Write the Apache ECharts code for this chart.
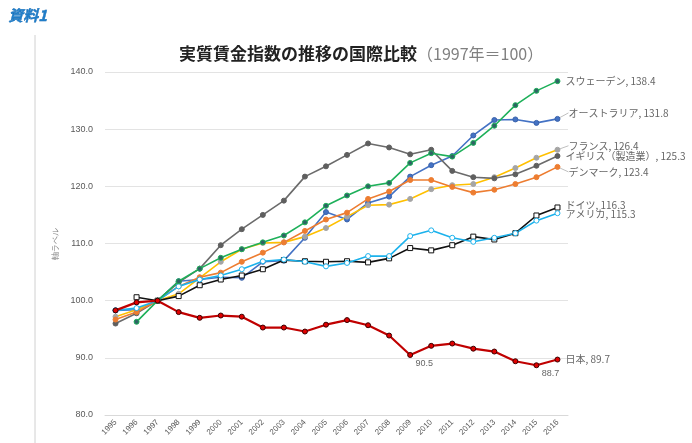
<!DOCTYPE html>
<html><head><meta charset="utf-8">
<script src="https://cdn.jsdelivr.net/npm/echarts@6/dist/echarts.min.js"></script>
<style>html,body{margin:0;padding:0;background:#fff}#c{width:692px;height:443px}</style>
</head><body><div id="c"></div>
<script>
const years = ['1995','1996','1997','1998','1999','2000','2001','2002','2003','2004','2005','2006','2007','2008','2009','2010','2011','2012','2013','2014','2015','2016'];
const yTicks = [80, 90, 100, 110, 120, 130, 140];
const sweden    = [null, 96.3, 100, 103.4, 105.6, 107.5, 109.0, 110.2, 111.4, 113.7, 116.6, 118.4, 120.0, 120.6, 124.1, 125.8, 125.2, 127.6, 130.6, 134.2, 136.7, 138.4];
const australia = [98.3, 98.4, 100, 103.4, 103.7, 104.1, 104.0, 106.8, 107.0, 111.0, 115.5, 114.2, 117.1, 118.2, 121.7, 123.7, 125.3, 128.9, 131.6, 131.7, 131.1, 131.8];
const france    = [97.2, 98.4, 100, 101.2, 104.0, 106.8, 109.0, 110.1, 110.2, 111.2, 112.7, 114.7, 116.7, 116.8, 117.8, 119.5, 120.2, 120.4, 121.6, 123.2, 125.0, 126.4];
const uk        = [96.0, 97.8, 100, 103.2, 105.6, 109.7, 112.5, 115.0, 117.5, 121.7, 123.5, 125.5, 127.5, 126.8, 125.6, 126.4, 122.7, 121.6, 121.4, 122.1, 123.6, 125.3];
const denmark   = [96.7, 98.0, 100, 102.5, 104.1, 104.9, 106.8, 108.4, 110.2, 112.2, 114.2, 115.4, 117.8, 119.1, 121.1, 121.1, 119.9, 118.9, 119.4, 120.4, 121.6, 123.4];
const germany   = [null, 100.6, 100, 100.8, 102.7, 103.7, 104.4, 105.5, 107.1, 106.9, 106.8, 106.9, 106.7, 107.4, 109.2, 108.8, 109.7, 111.2, 110.7, 111.8, 114.9, 116.3];
const usa       = [98.3, 98.7, 100, 102.5, 103.7, 104.4, 105.5, 106.9, 107.2, 106.8, 106.0, 106.6, 107.8, 107.8, 111.3, 112.3, 111.0, 110.3, 111.0, 111.8, 114.0, 115.3];
const japan     = [98.3, 99.7, 100, 98.0, 97.0, 97.4, 97.2, 95.3, 95.3, 94.6, 95.8, 96.6, 95.7, 93.9, 90.5, 92.1, 92.5, 91.6, 91.1, 89.4, 88.7, 89.7];
const names = ['スウェーデン','オーストラリア','フランス','イギリス（製造業）','デンマーク','ドイツ','アメリカ','日本'];

const labelColor = '#666666';
function mk(name, arr, opt) {
  const last = arr.length - 1;
  const data = arr.map((v, i) => {
    if (i === last) {
      return { value: v, label: { show: true, position: 'right', distance: 5, formatter: name + ', ' + v.toFixed(1), color: labelColor, fontSize: 10, fontFamily: 'Noto Sans CJK JP' } };
    }
    if (opt.extra && opt.extra.indexOf(i) >= 0) {
      return { value: v, label: { show: true, position: 'bottom', offset: [14, -4], formatter: v.toFixed(1), color: labelColor, fontSize: 9 } };
    }
    return v;
  });
  const s = {
    name: name, type: 'line', data: data, symbol: opt.symbol || 'circle', symbolSize: opt.size || 5,
    lineStyle: { color: opt.color, width: opt.width || 1.6 },
    itemStyle: { color: opt.fill, borderColor: opt.border, borderWidth: 1 },
    label: { show: false }, z: opt.z || 2, animation: false
  };
  if (opt.dy) {
    s.labelLayout = { dy: opt.dy, dx: opt.dx || 0 };
    if (opt.line) s.labelLine = { show: true, length2: 0, lineStyle: { color: '#BFBFBF', width: 1 } };
  }
  return s;
}

const chart = echarts.init(document.getElementById('c'), null, { renderer: 'canvas' });
chart.setOption({
  animation: false,
  title: {
    text: '{b|実質賃金指数の推移の国際比較}{g|（1997年＝100）}',
    left: 174, top: 40,
    textStyle: { rich: {
      b: { fontSize: 17, fontWeight: 'bold', color: '#222', fontFamily: 'Noto Sans CJK JP' },
      g: { fontSize: 16, fontWeight: 'normal', color: '#808080', fontFamily: 'Noto Sans CJK JP' }
    } }
  },
  graphic: [
    { type: 'text', left: 8, top: 8, style: { text: '資料1', fontSize: 15, fontWeight: 'bold', fontStyle: 'italic', fill: '#1F7DC8', fontFamily: 'Noto Sans CJK JP', stroke: '#0B5EA8', lineWidth: 0.4 } },
    { type: 'line', shape: { x1: 35, y1: 35, x2: 35, y2: 443 }, style: { stroke: '#D0D0D0', lineWidth: 1 } }
  ],
  grid: { left: 105, right: 124, top: 72, bottom: 28, containLabel: false },
  xAxis: {
    type: 'category', data: years, boundaryGap: true,
    axisLine: { show: true, lineStyle: { color: '#D9D9D9' } },
    axisTick: { show: false },
    axisLabel: { rotate: 45, fontSize: 8, color: '#595959', margin: 6, interval: 0 }
  },
  yAxis: {
    type: 'value', min: yTicks[0], max: yTicks[yTicks.length - 1], interval: 10,
    name: '軸ラベル', nameLocation: 'middle', nameGap: 38, nameRotate: 90,
    nameTextStyle: { fontSize: 8, color: '#7F7F7F' },
    axisLine: { show: false }, axisTick: { show: false },
    axisLabel: { fontSize: 9, color: '#595959', formatter: v => v.toFixed(1), margin: 12 },
    splitLine: { lineStyle: { color: '#E3E3E3', width: 1 } }
  },
  series: [
    mk(names[0], sweden,    { color: '#1EB05A', fill: '#2E6464', border: '#1EB05A', z: 3 }),
    mk(names[1], australia, { color: '#4472C4', fill: '#4472C4', border: '#3A62AA', dy: -6, dx: 3, line: true }),
    mk(names[2], france,    { color: '#FFC000', fill: '#A5A5A5', border: '#A5A5A5', dy: -4, dx: 3, line: true }),
    mk(names[3], uk,        { color: '#6B6B6B', fill: '#5F5F5F', border: '#5F5F5F' }),
    mk(names[4], denmark,   { color: '#ED7D31', fill: '#ED7D31', border: '#ED7D31', dy: 5, dx: 3, line: true }),
    mk(names[5], germany,   { color: '#111111', fill: '#FFFFFF', border: '#111111', symbol: 'rect', size: 5, dy: -2 }),
    mk(names[6], usa,       { color: '#1CB2EC', fill: '#FFFFFF', border: '#1CB2EC', dy: 1 }),
    mk(names[7], japan,     { color: '#C00000', fill: '#E00000', border: '#3A0000', width: 2.2, z: 4, extra: [14, 20] })
  ]
});
</script></body></html>
